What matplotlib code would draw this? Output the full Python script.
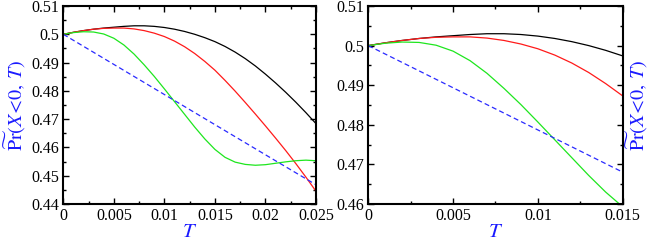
import matplotlib
matplotlib.use("Agg")
import matplotlib.pyplot as plt
from matplotlib.ticker import MultipleLocator

plt.rcParams['font.family'] = ['Liberation Serif', 'DejaVu Serif']
plt.rcParams['mathtext.fontset'] = 'stix'

# ---- data ----
T = [0.000, 0.001, 0.002, 0.003, 0.004, 0.005, 0.006, 0.007, 0.008, 0.009,
     0.010, 0.011, 0.012, 0.013, 0.014, 0.015, 0.016, 0.017, 0.018, 0.019,
     0.020, 0.021, 0.022, 0.023, 0.024, 0.025]
black = [0.5000, 0.5007, 0.5013, 0.5018, 0.5022, 0.5025, 0.5028, 0.5030, 0.5030, 0.5028,
         0.5024, 0.5018, 0.5010, 0.5000, 0.4988, 0.4974, 0.4957, 0.4937, 0.4914, 0.4888,
         0.4859, 0.4828, 0.4795, 0.4760, 0.4723, 0.4684]
red = [0.5000, 0.5007, 0.5013, 0.5018, 0.5021, 0.5022, 0.5022, 0.5019, 0.5013, 0.5004,
       0.4992, 0.4976, 0.4956, 0.4932, 0.4904, 0.4873, 0.4837, 0.4799, 0.4759, 0.4718,
       0.4676, 0.4633, 0.4589, 0.4543, 0.4495, 0.4445]
green = [0.5000, 0.5006, 0.5009, 0.5008, 0.5001, 0.4986, 0.4962, 0.4930, 0.4892, 0.4851,
         0.4807, 0.4762, 0.4717, 0.4672, 0.4630, 0.4593, 0.4565, 0.4548, 0.4540, 0.4537,
         0.4539, 0.4544, 0.4549, 0.4553, 0.4555, 0.4553]
T_lin = [0.0, 0.010, 0.020, 0.025]
blue = [0.5000, 0.4787, 0.4574, 0.4468]

left_xticks = [0, 0.005, 0.01, 0.015, 0.02, 0.025]
left_xlabels = ['0', '0.005', '0.01', '0.015', '0.02', '0.025']
left_yticks = [0.44, 0.45, 0.46, 0.47, 0.48, 0.49, 0.5, 0.51]
left_ylabels = ['0.44', '0.45', '0.46', '0.47', '0.48', '0.49', '0.5', '0.51']
right_xticks = [0, 0.005, 0.01, 0.015]
right_xlabels = ['0', '0.005', '0.01', '0.015']
right_yticks = [0.46, 0.47, 0.48, 0.49, 0.5, 0.51]
right_ylabels = ['0.46', '0.47', '0.48', '0.49', '0.5', '0.51']

ylabel_text = r'$\widetilde{\mathrm{Pr}}(X\!<\!0,\,T)$'
label_color = '#1a1aff'

fig = plt.figure(figsize=(6.54, 2.43), dpi=100)
ax1 = fig.add_axes([0.0968, 0.1605, 0.3864, 0.8148])
ax2 = fig.add_axes([0.5631, 0.1605, 0.3890, 0.8148])


def draw(ax, xlim, ylim, xt, xl, yt, yl):
    ax.plot(T, black, color='black', lw=0.9)
    ax.plot(T, red, color='#ff1a1a', lw=0.9)
    ax.plot(T, green, color='#1ee61e', lw=0.9)
    ax.plot(T_lin, blue, color='#2a2aff', lw=0.9, dashes=(4, 2.5))
    ax.set_xlim(*xlim)
    ax.set_ylim(*ylim)
    ax.set_xticks(xt)
    ax.set_xticklabels(xl)
    ax.set_yticks(yt)
    ax.set_yticklabels(yl)
    ax.xaxis.set_minor_locator(MultipleLocator(0.0025))
    ax.yaxis.set_minor_locator(MultipleLocator(0.005))
    ax.tick_params(which='both', direction='in', top=True, right=True,
                   labelsize=11.5, width=1.0, pad=3)
    ax.tick_params(which='major', length=4.5)
    ax.tick_params(which='minor', length=2.5)
    for s in ax.spines.values():
        s.set_linewidth(1.5)
    ax.set_xlabel(r'$T$', color=label_color, fontsize=15, labelpad=-1)


draw(ax1, (0, 0.025), (0.44, 0.51), left_xticks, left_xlabels, left_yticks, left_ylabels)
draw(ax2, (0, 0.015), (0.46, 0.51), right_xticks, right_xlabels, right_yticks, right_ylabels)

ax1.set_ylabel(ylabel_text, color=label_color, fontsize=14.5, labelpad=2)
ax2.yaxis.set_label_position('right')
ax2.set_ylabel(ylabel_text, color=label_color, fontsize=14.5, rotation=90, labelpad=1)

fig.savefig('out.png', dpi=100)
